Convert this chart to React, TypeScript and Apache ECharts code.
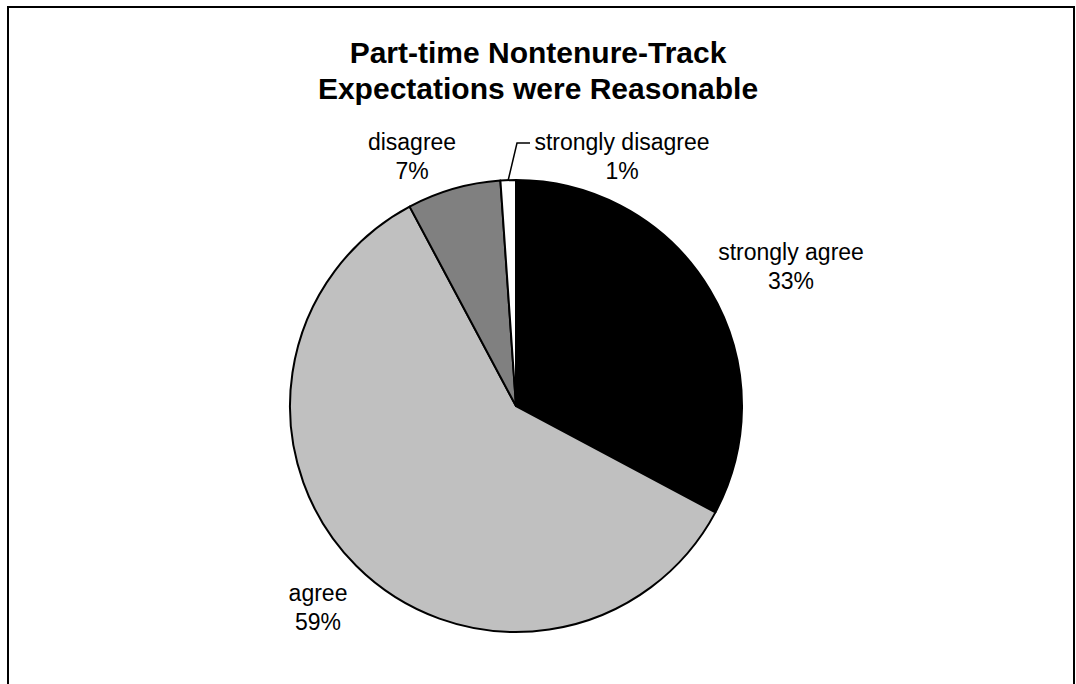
import React, { useEffect, useRef } from "react";
import * as echarts from "echarts";

const TITLE_LINES = ["Part-time Nontenure-Track", "Expectations were Reasonable"];
const CATEGORIES = ["strongly agree", "agree", "disagree", "strongly disagree"];
const PERCENTS = [32.8, 59.4, 6.7, 1.1];
const COLORS = ["#000000", "#c0c0c0", "#808080", "#ffffff"];
// label anchor positions (layout only)
const LABEL_POS: [number, number][] = [
  [791, 266],
  [318, 607],
  [412, 156],
  [622, 156],
];

export default function App() {
  const ref = useRef<HTMLDivElement>(null);
  useEffect(() => {
    if (!ref.current) return;
    const chart = echarts.init(ref.current, null, { renderer: "svg" });
    const font = "'Liberation Sans', Arial, Helvetica, sans-serif";
    chart.setOption({
      animation: false,
      backgroundColor: "#ffffff",
      title: {
        text: TITLE_LINES.join("\n"),
        left: "center",
        top: 29,
        textStyle: {
          fontFamily: font,
          fontSize: 30,
          fontWeight: "bold",
          lineHeight: 36,
          color: "#000",
        },
      },
      graphic: [
        {
          type: "rect",
          shape: { x: 8, y: 7, width: 1066, height: 720 },
          style: { fill: "none", stroke: "#000", lineWidth: 2 },
          silent: true,
        },
      ],
      series: [
        {
          type: "pie",
          center: [516, 406],
          radius: 226,
          startAngle: 90,
          clockwise: true,
          avoidLabelOverlap: false,
          emphasis: { disabled: true },
          itemStyle: { borderColor: "#000", borderWidth: 2 },
          label: {
            show: true,
            position: "outside",
            fontFamily: font,
            fontSize: 23,
            lineHeight: 29,
            color: "#000",
            align: "center",
            formatter: (p: any) => `${p.name}\n${Math.round(p.value)}%`,
          },
          labelLine: { show: false, lineStyle: { color: "#000", width: 1.5 } },
          labelLayout: (p: any) => {
            const pos = LABEL_POS[p.dataIndex];
            const out: any = {
              x: pos[0],
              y: pos[1],
              align: "center",
              verticalAlign: "middle",
            };
            if (p.dataIndex === 3) {
              out.labelLinePoints = [
                [508, 181],
                [517, 143],
                [530, 143],
              ];
            }
            return out;
          },
          data: CATEGORIES.map((name, i) => ({
            name,
            value: PERCENTS[i],
            itemStyle: { color: COLORS[i] },
            labelLine: i === 3 ? { show: true, length: 10, length2: 10 } : { show: false },
          })),
        },
      ],
    });
    return () => chart.dispose();
  }, []);
  return (
    <div
      ref={ref}
      style={{ position: "absolute", left: 0, top: 0, width: 1076, height: 684 }}
    />
  );
}
